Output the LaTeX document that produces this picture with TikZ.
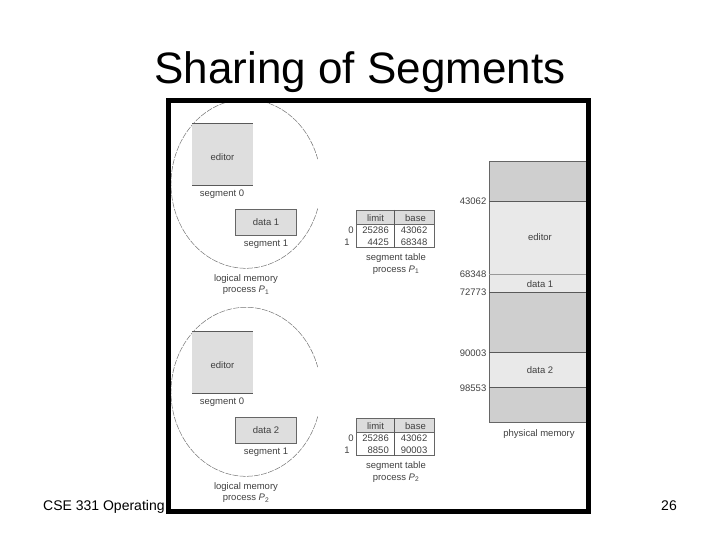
\documentclass[tikz,border=0pt]{standalone}
\usepackage{fontspec}
\setmainfont{Liberation Sans}
\tikzset{
    lbl/.style = {inner sep=0pt, text=black!75, font=\fontsize{9.5}{11}\selectfont},
    seg/.style = {fill=segfill, draw=none},
    thinline/.style = {draw=black!60, line width=0.6pt},
    darkline/.style = {draw=black!65, line width=0.8pt}
}
\definecolor{segfill}{HTML}{DEDEDE}
\definecolor{headfill}{HTML}{DCDCDC}
\definecolor{freefill}{HTML}{CFCFCF}
\definecolor{usedfill}{HTML}{E9E9E9}
\begin{document}
\begin{tikzpicture}[x=1pt, y=-1pt]

    \useasboundingbox (0,0) rectangle (720,540);

    \node[inner sep=0pt, font=\fontsize{44}{48}\selectfont, anchor=base] (title) at (360, 84) {Sharing of Segments};
    \node[inner sep=0pt, font=\fontsize{14}{16}\selectfont, anchor=base west] (course) at (43, 510) {CSE 331 Operating};
    \node[inner sep=0pt, font=\fontsize{14}{16}\selectfont, anchor=base east] (pagenum) at (677, 510) {26};

    % the two processes
    \foreach \b/\d/\p/\q in {0/1/1/4425, 208/2/2/8850}
    {
        \draw[draw=black!55, line width=0.5pt, dash pattern=on 6pt off 1.2pt] (246 + 75*0.9563, 184 + \b + 24.5) arc (17:343:75 and 84.5);

        % segments
        \fill[seg] (192, 123 + \b) rectangle (253, 185 + \b);
        \draw[darkline] (192, 123.5 + \b) -- (253, 123.5 + \b);
        \draw[darkline] (192, 185 + \b) -- (253, 185 + \b);
        \node[lbl] (editor\d) at (222.5, 157 + \b) {editor};
        \node[lbl] (segzero\d) at (222, 194 + \b) {segment 0};

        \draw[fill=segfill, thinline] (235, 209 + \b) rectangle (296.5, 235.5 + \b);
        \node[lbl] (data\d) at (266, 222 + \b) {data \d};
        \node[lbl] (segone\d) at (266, 244 + \b) {segment 1};

        \node[lbl] (logical\d) at (246, 279 + \b) {logical memory};
        \node[lbl] (process\d) at (246, 290.5 + \b) {process \textit{P}\textsubscript{\p}};

        % segment table
        \fill[headfill] (356.5, 210 + \b) rectangle (434.5, 224.5 + \b);
        \draw[thinline] (356.5, 210 + \b) rectangle (434.5, 247.5 + \b);
        \draw[thinline] (356.5, 224.5 + \b) -- (434.5, 224.5 + \b);
        \draw[darkline] (394.5, 210 + \b) -- (394.5, 247.5 + \b);

        \node[lbl] (limit\d) at (375.5, 218 + \b) {limit};
        \node[lbl] (base\d) at (415.5, 218 + \b) {base};
        \node[lbl] (idxzero\d) at (351, 230 + \b) {0};
        \node[lbl] (idxone\d) at (347, 242 + \b) {1};
        \node[lbl, anchor=east] (limzero\d) at (389, 230 + \b) {25286};
        \node[lbl, anchor=east] (limone\d) at (389, 242.5 + \b) {\q};
        \node[lbl, anchor=east] (basezero\d) at (427.5, 230 + \b) {43062};

        \node[lbl] (table\d) at (396, 258 + \b) {segment table};
        \node[lbl] (tableproc\d) at (396, 270 + \b) {process \textit{P}\textsubscript{\p}};
    }

    \node[lbl, anchor=east] (baseoneA) at (427.5, 242.5) {68348};
    \node[lbl, anchor=east] (baseoneB) at (427.5, 450.5) {90003};

    % physical memory
    \fill[freefill] (489, 161.5) rectangle (586, 422.5);
    \fill[usedfill] (489, 201.5) rectangle (586, 292);
    \fill[usedfill] (489, 352) rectangle (586, 387);

    \draw[thinline] (586, 161.5) -- (489, 161.5) -- (489, 422.5) -- (586, 422.5);
    \draw[darkline] (489, 201.5) -- (586, 201.5);
    \draw[draw=black!40, line width=0.6pt] (489, 274) -- (586, 274);
    \draw[darkline] (489, 292) -- (586, 292);
    \draw[darkline] (489, 352) -- (586, 352);
    \draw[darkline] (489, 387) -- (586, 387);

    \foreach \y/\v in {201.5/43062, 274.5/68348, 292.5/72773, 353/90003, 388/98553}
        \node[lbl, anchor=east] (addr\v) at (486.5, \y) {\v};

    \node[lbl] (memeditor) at (540, 237.5) {editor};
    \node[lbl] (memdataA) at (540, 284) {data 1};
    \node[lbl] (memdataB) at (540, 370.5) {data 2};
    \node[lbl] (physical) at (539, 434) {physical memory};

    % thick frame
    \draw[line width=5pt] (168, 100.5) rectangle (588.5, 511);

\end{tikzpicture}
\end{document}
